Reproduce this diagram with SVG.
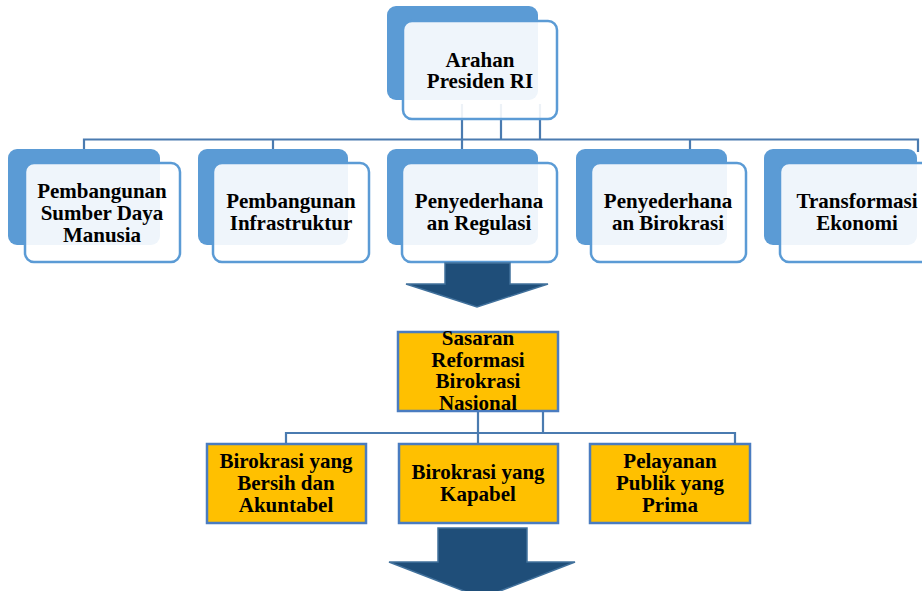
<svg xmlns="http://www.w3.org/2000/svg" width="922" height="591" viewBox="0 0 922 591">
<style>
.back{fill:#5b9bd5;}
.front{fill:#ffffff;fill-opacity:0.9;stroke:#5b9bd5;stroke-width:2.5;}
.gold{fill:#ffc000;stroke:#4a7cc0;stroke-width:2.5;}
.t{font-family:"Liberation Serif","Times New Roman",serif;font-weight:bold;font-size:21px;fill:#000;text-anchor:middle;}
.ln{fill:none;stroke:#4a7bb0;stroke-width:2.2;}
.arrow{fill:#1f4e79;stroke:#41719c;stroke-width:1.5;}
</style>
<rect width="922" height="591" fill="#ffffff"/>
<g id="connectors">
<path class="ln" d="M84,149 V139.5 H918 V152 M273,139.5 V149 M462,104 V149 M501,104 V139.5 M540,104 V139.5 M690,139.5 V149"/>
<path class="ln" d="M478,411 V444 M543,411 V433 M286,444 V433 H735 V444"/>
</g>
<g id="n_arahan">
<rect class="back" x="387" y="6" width="151" height="94" rx="9"/>
<rect class="front" x="403" y="21" width="154" height="98" rx="9"/>
<text class="t" x="480" y="67">Arahan</text>
<text class="t" x="480" y="88">Presiden RI</text>
</g>
<g id="n_sdm">
<rect class="back" x="8" y="149" width="152" height="96" rx="9"/>
<rect class="front" x="25" y="163" width="155" height="99" rx="9"/>
<text class="t" x="102" y="198">Pembangunan</text>
<text class="t" x="102" y="220">Sumber Daya</text>
<text class="t" x="102" y="242">Manusia</text>
</g>
<g id="n_infra">
<rect class="back" x="198" y="149" width="150" height="96" rx="9"/>
<rect class="front" x="213" y="163" width="156" height="99" rx="9"/>
<text class="t" x="291" y="208">Pembangunan</text>
<text class="t" x="291" y="230">Infrastruktur</text>
</g>
<g id="n_regulasi">
<rect class="back" x="387" y="149" width="151" height="96" rx="9"/>
<rect class="front" x="402" y="163" width="155" height="99" rx="9"/>
<text class="t" x="479" y="208">Penyederhana</text>
<text class="t" x="479" y="230">an Regulasi</text>
</g>
<g id="n_birokrasi">
<rect class="back" x="576" y="149" width="151" height="96" rx="9"/>
<rect class="front" x="591" y="163" width="155" height="99" rx="9"/>
<text class="t" x="668" y="208">Penyederhana</text>
<text class="t" x="668" y="230">an Birokrasi</text>
</g>
<g id="n_ekonomi">
<rect class="back" x="764" y="149" width="153" height="96" rx="9"/>
<rect class="front" x="780" y="163" width="156" height="99" rx="9"/>
<text class="t" x="857" y="208">Transformasi</text>
<text class="t" x="857" y="230">Ekonomi</text>
</g>
<g id="arrow1">
<polygon class="arrow" points="445,263 510,263 510,284 548,284 477,307 406,284 445,284"/>
</g>
<g id="n_sasaran">
<rect class="gold" x="398" y="332" width="160" height="79"/>
<text class="t" x="478" y="345">Sasaran</text>
<text class="t" x="478" y="367">Reformasi</text>
<text class="t" x="478" y="388">Birokrasi</text>
<text class="t" x="478" y="410">Nasional</text>
</g>
<g id="n_bersih">
<rect class="gold" x="207" y="444" width="159" height="79"/>
<text class="t" x="286" y="468">Birokrasi yang</text>
<text class="t" x="286" y="490">Bersih dan</text>
<text class="t" x="286" y="512">Akuntabel</text>
</g>
<g id="n_kapabel">
<rect class="gold" x="399" y="444" width="159" height="79"/>
<text class="t" x="478" y="479">Birokrasi yang</text>
<text class="t" x="478" y="501">Kapabel</text>
</g>
<g id="n_prima">
<rect class="gold" x="590" y="444" width="160" height="79"/>
<text class="t" x="670" y="468">Pelayanan</text>
<text class="t" x="670" y="490">Publik yang</text>
<text class="t" x="670" y="512">Prima</text>
</g>
<g id="arrow2">
<polygon class="arrow" points="438,528 527,528 527,562 575,562 482,598 389,562 438,562"/>
</g>
</svg>
